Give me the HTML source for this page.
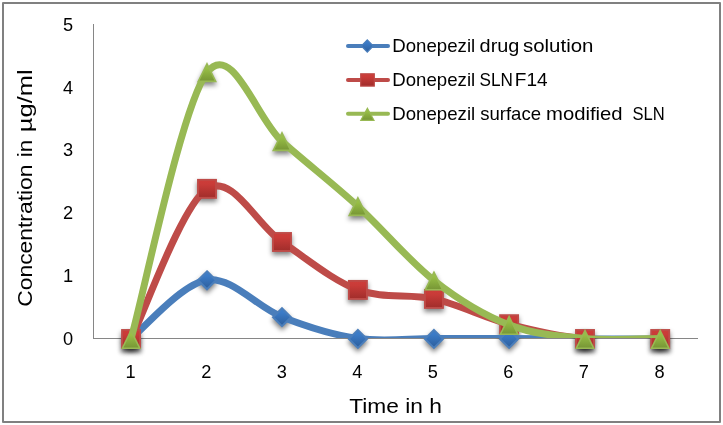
<!DOCTYPE html>
<html><head><meta charset="utf-8"><title>Chart</title>
<style>
html,body{margin:0;padding:0;background:#fff;}
svg{display:block;}
text{font-family:"Liberation Sans",sans-serif;fill:#000;}
.ln{fill:none;stroke-width:7;stroke-linecap:round;stroke-linejoin:round;}
.mb{fill:url(#gb);stroke:#4a7ebb;stroke-width:2;}
.mr{fill:url(#gr);stroke:#be4b48;stroke-width:1.9;}
.mg{fill:url(#gg);stroke:#98b954;stroke-width:1.6;stroke-linejoin:miter;}
.sh path,.sh rect{fill:#000;stroke:#000;}
.tk{font-size:18.2px;}
.ti{font-size:21px;}
</style></head><body>
<svg width="723" height="425" viewBox="0 0 723 425">
<defs>
<linearGradient id="gb" x1="0" y1="0" x2="0" y2="1"><stop offset="0" stop-color="#3d7ecb"/><stop offset="0.25" stop-color="#3b7bc7"/><stop offset="1" stop-color="#2c5d9a"/></linearGradient>
<linearGradient id="gr" x1="0" y1="0" x2="0" y2="1"><stop offset="0" stop-color="#cd3d3a"/><stop offset="0.25" stop-color="#c93b38"/><stop offset="1" stop-color="#a02d2b"/></linearGradient>
<linearGradient id="gg" x1="0" y1="0" x2="0" y2="1"><stop offset="0" stop-color="#9bc348"/><stop offset="0.25" stop-color="#98bf46"/><stop offset="1" stop-color="#769535"/></linearGradient>
<filter id="sh" x="-50%" y="-50%" width="200%" height="200%"><feGaussianBlur in="SourceAlpha" stdDeviation="2.5"/><feOffset dx="0" dy="3.2"/><feComponentTransfer><feFuncA type="linear" slope="0.5"/></feComponentTransfer></filter>
<clipPath id="cp"><rect x="93" y="20" width="606" height="318"/></clipPath>
</defs>
<rect x="0" y="0" width="723" height="425" fill="#fff"/>
<rect x="3" y="3" width="717" height="419" fill="none" stroke="#808080" stroke-width="2" stroke-linejoin="round"/>
<rect x="93" y="24" width="1" height="315" fill="#868686"/>
<rect x="93" y="338" width="605" height="1" fill="#868686"/>
<g class="sh" filter="url(#sh)"><path class="mb" d="M131.05,329.90 L140.05,338.90 L131.05,347.90 L122.05,338.90Z"/><path class="mb" d="M207.00,271.30 L216.00,280.30 L207.00,289.30 L198.00,280.30Z"/><path class="mb" d="M282.00,308.20 L291.00,317.20 L282.00,326.20 L273.00,317.20Z"/><path class="mb" d="M357.90,329.90 L366.90,338.90 L357.90,347.90 L348.90,338.90Z"/><path class="mb" d="M433.95,329.90 L442.95,338.90 L433.95,347.90 L424.95,338.90Z"/><path class="mb" d="M509.10,329.90 L518.10,338.90 L509.10,347.90 L500.10,338.90Z"/><path class="mb" d="M585.00,329.90 L594.00,338.90 L585.00,347.90 L576.00,338.90Z"/><path class="mb" d="M660.20,329.90 L669.20,338.90 L660.20,347.90 L651.20,338.90Z"/></g>
<g class="sh" filter="url(#sh)"><rect class="mr" x="122.05" y="330.00" width="18.00" height="18.00"/><rect class="mr" x="198.00" y="179.85" width="18.00" height="18.00"/><rect class="mr" x="273.00" y="233.00" width="18.00" height="18.00"/><rect class="mr" x="348.90" y="280.90" width="18.00" height="18.00"/><rect class="mr" x="424.95" y="289.90" width="18.00" height="18.00"/><rect class="mr" x="500.10" y="315.20" width="18.00" height="18.00"/><rect class="mr" x="576.00" y="330.00" width="18.00" height="18.00"/><rect class="mr" x="651.20" y="330.00" width="18.00" height="18.00"/></g>
<g class="sh" filter="url(#sh)"><path class="mg" d="M131.05,330.60 L139.76,348.20 L122.34,348.20Z"/><path class="mg" d="M207.00,63.80 L215.71,81.40 L198.29,81.40Z"/><path class="mg" d="M282.00,132.80 L290.71,150.40 L273.29,150.40Z"/><path class="mg" d="M357.90,197.80 L366.61,215.40 L349.19,215.40Z"/><path class="mg" d="M433.95,272.20 L442.66,289.80 L425.24,289.80Z"/><path class="mg" d="M509.10,316.60 L517.81,334.20 L500.39,334.20Z"/><path class="mg" d="M585.00,330.60 L593.71,348.20 L576.29,348.20Z"/><path class="mg" d="M660.20,330.60 L668.91,348.20 L651.49,348.20Z"/></g>
<g clip-path="url(#cp)"><path class="ln" stroke="#4a7ebb" d="M131.05,338.50 C143.71,328.75 181.84,283.60 207.00,280.00 C232.16,276.40 256.85,307.15 282.00,316.90 C307.15,326.65 332.57,334.90 357.90,338.50 C383.22,342.10 408.75,338.50 433.95,338.50 C459.15,338.50 483.93,338.43 509.10,338.50 C534.27,338.57 559.82,338.83 585.00,338.90 C610.18,338.97 647.67,338.90 660.20,338.90"/></g>
<g><path class="mb" d="M131.05,329.90 L140.05,338.90 L131.05,347.90 L122.05,338.90Z"/><path class="mb" d="M207.00,271.30 L216.00,280.30 L207.00,289.30 L198.00,280.30Z"/><path class="mb" d="M282.00,308.20 L291.00,317.20 L282.00,326.20 L273.00,317.20Z"/><path class="mb" d="M357.90,329.90 L366.90,338.90 L357.90,347.90 L348.90,338.90Z"/><path class="mb" d="M433.95,329.90 L442.95,338.90 L433.95,347.90 L424.95,338.90Z"/><path class="mb" d="M509.10,329.90 L518.10,338.90 L509.10,347.90 L500.10,338.90Z"/></g>
<g clip-path="url(#cp)"><path class="ln" stroke="#be4b48" d="M131.05,339.00 C143.71,313.98 181.84,205.02 207.00,188.85 C232.16,172.68 256.85,225.16 282.00,242.00 C307.15,258.84 332.57,280.42 357.90,289.90 C383.22,299.38 408.75,293.18 433.95,298.90 C459.15,304.62 483.93,317.52 509.10,324.20 C534.27,330.88 559.82,336.53 585.00,339.00 C610.18,341.47 647.67,339.00 660.20,339.00"/></g>
<g><rect class="mr" x="122.05" y="330.00" width="18.00" height="18.00"/><rect class="mr" x="198.00" y="179.85" width="18.00" height="18.00"/><rect class="mr" x="273.00" y="233.00" width="18.00" height="18.00"/><rect class="mr" x="348.90" y="280.90" width="18.00" height="18.00"/><rect class="mr" x="424.95" y="289.90" width="18.00" height="18.00"/><rect class="mr" x="500.10" y="315.20" width="18.00" height="18.00"/><rect class="mr" x="576.00" y="330.00" width="18.00" height="18.00"/><rect class="mr" x="651.20" y="330.00" width="18.00" height="18.00"/></g>
<g clip-path="url(#cp)"><path class="ln" stroke="#98b954" d="M131.05,338.80 C143.71,294.43 181.84,105.50 207.00,72.60 C232.16,39.70 256.85,119.12 282.00,141.40 C307.15,163.68 332.57,183.13 357.90,206.30 C383.22,229.47 408.75,260.65 433.95,280.40 C459.15,300.15 483.93,315.12 509.10,324.80 C534.27,334.48 559.82,336.22 585.00,338.50 C610.18,340.78 647.67,338.50 660.20,338.50"/></g>
<g><path class="mg" d="M131.05,330.60 L139.76,348.20 L122.34,348.20Z"/><path class="mg" d="M207.00,63.80 L215.71,81.40 L198.29,81.40Z"/><path class="mg" d="M282.00,132.80 L290.71,150.40 L273.29,150.40Z"/><path class="mg" d="M357.90,197.80 L366.61,215.40 L349.19,215.40Z"/><path class="mg" d="M433.95,272.20 L442.66,289.80 L425.24,289.80Z"/><path class="mg" d="M509.10,316.60 L517.81,334.20 L500.39,334.20Z"/><path class="mg" d="M585.00,330.60 L593.71,348.20 L576.29,348.20Z"/><path class="mg" d="M660.20,330.60 L668.91,348.20 L651.49,348.20Z"/></g>
<text class="tk" x="73" y="344.9" text-anchor="end">0</text>
<text class="tk" x="73" y="282.1" text-anchor="end">1</text>
<text class="tk" x="73" y="219.2" text-anchor="end">2</text>
<text class="tk" x="73" y="156.4" text-anchor="end">3</text>
<text class="tk" x="73" y="93.5" text-anchor="end">4</text>
<text class="tk" x="73" y="30.7" text-anchor="end">5</text>
<text class="tk" x="130.6" y="378" text-anchor="middle">1</text>
<text class="tk" x="206.2" y="378" text-anchor="middle">2</text>
<text class="tk" x="281.7" y="378" text-anchor="middle">3</text>
<text class="tk" x="357.3" y="378" text-anchor="middle">4</text>
<text class="tk" x="432.8" y="378" text-anchor="middle">5</text>
<text class="tk" x="508.4" y="378" text-anchor="middle">6</text>
<text class="tk" x="583.9" y="378" text-anchor="middle">7</text>
<text class="tk" x="659.5" y="378" text-anchor="middle">8</text>
<text class="ti" x="395.5" y="412.5" text-anchor="middle" textLength="92.6" lengthAdjust="spacingAndGlyphs">Time in h</text>
<text class="ti" transform="translate(32,306.7) rotate(-90)"><tspan x="0" textLength="142.2" lengthAdjust="spacingAndGlyphs">Concentration</tspan> <tspan x="149.4" textLength="17.4" lengthAdjust="spacingAndGlyphs">in</tspan> <tspan x="174.5" textLength="62.8" lengthAdjust="spacingAndGlyphs">µg/ml</tspan></text>
<line x1="348" x2="388" y1="46.0" y2="46.0" stroke="#4a7ebb" stroke-width="4" stroke-linecap="round"/>
<path class="mb" style="stroke-width:1.2" d="M367.3,39.8 L373.3,46 L367.3,52.2 L361.3,46Z"/>
<line x1="348" x2="388" y1="80.0" y2="80.0" stroke="#be4b48" stroke-width="4" stroke-linecap="round"/>
<rect class="mr" style="stroke-width:1.2" x="360.7" y="73.8" width="13.6" height="12.3"/>
<line x1="348" x2="388" y1="113.8" y2="113.8" stroke="#98b954" stroke-width="4" stroke-linecap="round"/>
<path class="mg" style="stroke-width:1.2" d="M367.4,108.3 L374,120.3 L360.8,120.3Z"/>
<text class="tk" y="51.6"><tspan x="392.3" textLength="82.9" lengthAdjust="spacingAndGlyphs">Donepezil</tspan> <tspan x="479.6" textLength="39.8" lengthAdjust="spacingAndGlyphs">drug</tspan> <tspan x="523.0" textLength="70.4" lengthAdjust="spacingAndGlyphs">solution</tspan></text>
<text class="tk" y="85.5"><tspan x="392.3" textLength="82.9" lengthAdjust="spacingAndGlyphs">Donepezil</tspan> <tspan x="479.6" textLength="33.4" lengthAdjust="spacingAndGlyphs">SLN</tspan> <tspan x="514.8" textLength="32.8" lengthAdjust="spacingAndGlyphs">F14</tspan></text>
<text class="tk" y="119.6"><tspan x="392.3" textLength="82.9" lengthAdjust="spacingAndGlyphs">Donepezil</tspan> <tspan x="480.2" textLength="60.8" lengthAdjust="spacingAndGlyphs">surface</tspan> <tspan x="546.0" textLength="76.6" lengthAdjust="spacingAndGlyphs">modified</tspan> <tspan x="632.4" textLength="32.2" lengthAdjust="spacingAndGlyphs">SLN</tspan></text>
</svg></body></html>
